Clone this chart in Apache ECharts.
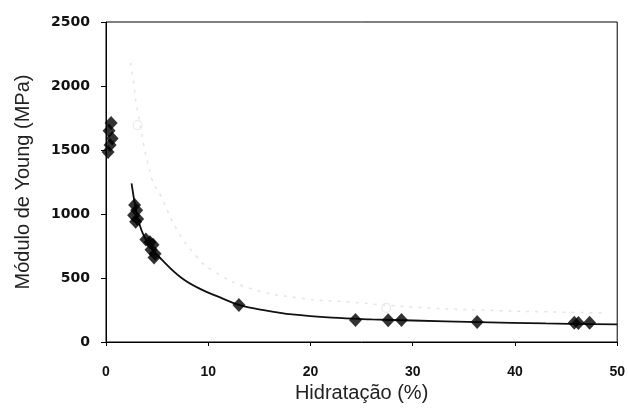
<!DOCTYPE html>
<html>
<head>
<meta charset="utf-8">
<script src="https://cdn.jsdelivr.net/npm/echarts@6/dist/echarts.min.js"></script>
<style>
  html, body { margin: 0; padding: 0; background: #fff; }
  #chart { width: 628px; height: 414px; }
</style>
</head>
<body>
<div id="chart"></div>
<script>
// measured points (diamonds)
var pointsX = [0.5, 0.3, 0.6, 0.4, 0.2,
               2.8, 3.0, 2.7, 3.1, 2.9,
               3.9, 4.3, 4.6, 4.4, 4.8, 4.7,
               13.0, 24.4, 27.6, 28.9, 36.3, 45.8, 46.2, 47.3];
var pointsY = [1710, 1650, 1590, 1540, 1485,
               1070, 1030, 990, 960, 940,
               800, 780, 760, 720, 690, 660,
               290, 172, 170, 172, 156, 150, 148, 150];

// solid fitted curve
var fitX = [2.5, 3.3, 4.2, 5.5, 7.4, 9.2, 11.1, 13, 15.7, 18.2, 22.1, 26, 30, 36.4, 43, 50];
var fitY = [1240, 914, 760, 640, 500, 415, 350, 290, 245, 215, 190, 177, 168, 156, 145, 138];

// faint dotted curve
var dotX = [2.4, 2.7, 3.1, 4.5, 5.3, 7.0, 8.9, 10.4, 14, 18.9, 23.8, 30, 36.4, 44, 49];
var dotY = [2180, 2020, 1800, 1270, 1150, 870, 664, 560, 422, 344, 312, 273, 250, 234, 227];

// faint hollow circles
var ghostX = [3.1, 27.4];
var ghostY = [1695, 266];

var xTicks = [0, 10, 20, 30, 40, 50];
var yTicks = [0, 500, 1000, 1500, 2000, 2500];

function pairs(xs, ys) {
  var out = [];
  for (var i = 0; i < xs.length; i++) out.push([xs[i], ys[i]]);
  return out;
}

var chart = echarts.init(document.getElementById('chart'), null, { renderer: 'canvas' });
chart.setOption({
  animation: false,
  grid: { left: 106, right: 8, top: 22, bottom: 72, show: true,
    borderColor: '#000', borderWidth: 1, backgroundColor: 'transparent' },
  xAxis: {
    type: 'value', min: xTicks[0], max: xTicks[xTicks.length - 1], interval: 10,
    name: 'Hidratação (%)', nameLocation: 'middle', nameGap: 41,
    nameTextStyle: { fontFamily: 'Liberation Sans', fontSize: 20, color: '#222' },
    axisLine: { show: true, lineStyle: { color: '#000', width: 1 } },
    axisTick: { show: true, length: 4, lineStyle: { color: '#000' } },
    axisLabel: { margin: 23, color: '#111', fontFamily: 'Liberation Sans',
      fontWeight: 'bold', fontSize: 14, formatter: function(v) { return String(v); } },
    splitLine: { show: false }
  },
  yAxis: {
    type: 'value', min: yTicks[0], max: yTicks[yTicks.length - 1], interval: 500,
    name: 'Módulo de Young (MPa)', nameLocation: 'middle', nameGap: 73,
    nameTextStyle: { fontFamily: 'Liberation Sans', fontSize: 20, color: '#222' },
    axisLine: { show: true, lineStyle: { color: '#000', width: 1 } },
    axisTick: { show: true, length: 5, lineStyle: { color: '#000' } },
    axisLabel: { margin: 16, color: '#111', fontFamily: 'DejaVu Sans',
      fontWeight: 'bold', fontSize: 14, formatter: function(v) { return String(v); } },
    splitLine: { show: false }
  },
  series: [
    { type: 'line', data: pairs(dotX, dotY), smooth: true, symbol: 'none', silent: true,
      lineStyle: { color: '#e4e4e4', width: 1.5, type: [3, 6] }, z: 1 },
    { type: 'scatter', data: pairs(ghostX, ghostY), symbol: 'circle', symbolSize: 9, silent: true,
      itemStyle: { color: 'transparent', borderColor: '#e6e6e6', borderWidth: 1.2 }, z: 1 },
    { type: 'line', data: pairs(fitX, fitY), smooth: 0.4, symbol: 'none',
      lineStyle: { color: '#111', width: 1.8 }, z: 2 },
    { type: 'scatter', data: pairs(pointsX, pointsY), symbol: 'diamond', symbolSize: [13, 14],
      itemStyle: { color: '#000' }, z: 3 }
  ]
});
</script>
</body>
</html>
